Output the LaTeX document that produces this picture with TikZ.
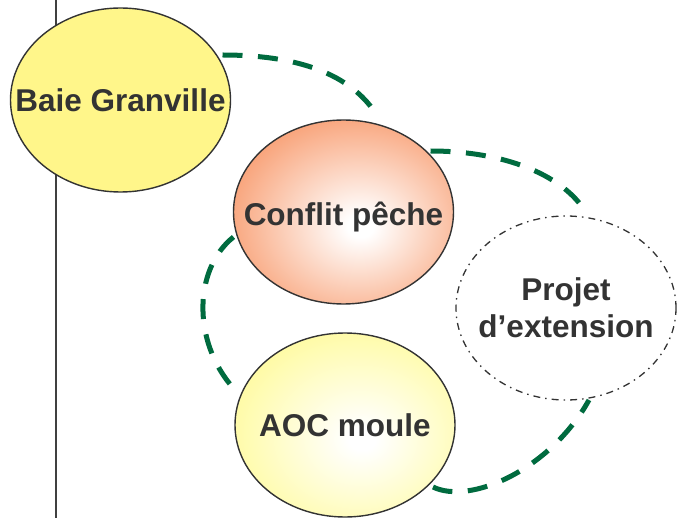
\documentclass[tikz,border=0pt]{standalone}
\usepackage{fontspec}
\setmainfont{Liberation Sans}
\usetikzlibrary{shapes.geometric,calc}
\definecolor{txtgray}{HTML}{333333}
\definecolor{linegray}{HTML}{404040}
\definecolor{baieyellow}{HTML}{FFF68A}
\definecolor{aocyellow}{HTML}{FFFA8E}
\definecolor{conflitorange}{HTML}{F7905E}
\definecolor{linkgreen}{HTML}{006B3F}
\pgfdeclareradialshading{conflitshade}{\pgfpoint{4bp}{-4bp}}{color(0bp)=(white); color(3bp)=(white); color(35bp)=(conflitorange); color(100bp)=(conflitorange)}
\pgfdeclareradialshading{aocshade}{\pgfpoint{4bp}{-4bp}}{color(0bp)=(white); color(3bp)=(white); color(36bp)=(aocyellow); color(100bp)=(aocyellow)}
\tikzset{
  bubble/.style={ellipse, minimum width=220bp, minimum height=184bp, inner sep=0pt,
    draw=txtgray, line width=1.4bp},
  bubbletext/.style={text=txtgray, align=center, inner sep=0pt,
    font=\fontsize{31.5bp}{37bp}\selectfont\bfseries},
  onelinetext/.style={bubbletext, text height=23bp, text depth=0pt},
  projbubble/.style={bubble, draw=txtgray, line width=1.3bp,
    dash pattern=on 7bp off 5bp on 1.5bp off 5bp},
  link/.style={draw=linkgreen, line width=5bp, dash pattern=on 20bp off 15.5bp}
}
\begin{document}
\begin{tikzpicture}[x=1bp,y=-1bp]
\useasboundingbox (0,0) rectangle (677,518);
\coordinate (ltop) at (56,0);
\coordinate (lbot) at (56,518);
\draw[linegray, line width=1.3bp] (ltop) -- (lbot);
\node[bubble, fill=baieyellow] (baie) at (120.5,100) {};
\node[bubble, shading=conflitshade] (conflit) at (343.5,212) {};
\node[bubble, shading=aocshade] (aoc) at (345,425) {};
\node[projbubble] (projet) at (566,308) {};
\node[onelinetext] (baietext) at (baie.center) {Baie Granville};
\node[onelinetext] (conflittext) at ($(conflit.center)+(0,2)$) {Conflit pêche};
\node[onelinetext] (aoctext) at (aoc.center) {AOC moule};
\node[bubbletext] (projettext) at (projet.center) {Projet\\d’extension};
\draw[link] ($(baie.center)+(102,-45)$) .. controls (300,55) and (350,75) .. ($(conflit.center)+(32,-99)$);
\draw[link] ($(conflit.center)+(87,-61)$) .. controls (505,151) and (560,175) .. ($(projet.center)+(17,-100)$);
\draw[link] ($(conflit.center)+(-110,25)$) .. controls (192,270) and (192,347) .. ($(aoc.center)+(-107,-32)$);
\draw[link] ($(aoc.center)+(88,62)$) .. controls (470,505) and (550,470) .. ($(projet.center)+(23,92)$);
\end{tikzpicture}
\end{document}
